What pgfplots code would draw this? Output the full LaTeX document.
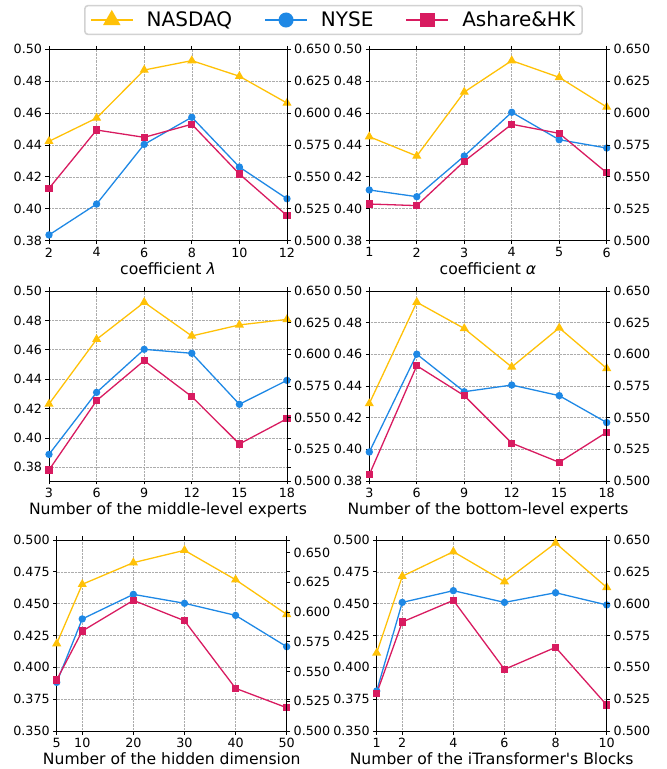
\documentclass[border=0pt]{standalone}
\usepackage{fontspec}
\setmainfont{DejaVu Sans}
\usepackage{pgfplots}
\pgfplotsset{compat=1.18}
\definecolor{cNas}{HTML}{FFC107}
\definecolor{cNyse}{HTML}{1E88E5}
\definecolor{cAsh}{HTML}{D81B60}
\newcommand{\tfs}{\fontsize{12.7}{14}\selectfont}
\newcommand{\lfs}{\fontsize{15.6}{17}\selectfont}
\pgfplotsset{
  pbase/.style={
    scale only axis, anchor=south west,
    tick align=outside, major tick length=3.5pt,
    every tick/.style={black, line width=0.8pt},
    axis line style={line width=0.9pt},
    ticklabel style={font=\tfs}, label style={font=\lfs},
    /pgf/number format/assume math mode=true,
  },
  pleft/.style={pbase, grid=major,
    grid style={densely dotted, gray!65, line width=0.6pt},
    yticklabel style={/pgf/number format/.cd, fixed, fixed zerofill, precision=2},
    xticklabel style={/pgf/number format/.cd, fixed},
    xlabel style={yshift=1.5pt},
  },
  pleftb/.style={pleft, yticklabel style={/pgf/number format/.cd, fixed, fixed zerofill, precision=3}},
  pright/.style={pbase, axis y line*=right, axis x line=none, xmin=0, xmax=1,
    ymin=0.5, ytick={0.5,0.525,0.55,0.575,0.6,0.625,0.65},
    yticklabel style={/pgf/number format/.cd, fixed, fixed zerofill, precision=3}},
  nas/.style={color=cNas, line width=1.3pt, mark=triangle*, mark size=4pt},
  nyse/.style={color=cNyse, line width=1.3pt, mark=*, mark size=3pt},
  ash/.style={color=cAsh, line width=1.3pt, mark=square*, mark size=3pt},
}
\begin{document}
\begin{tikzpicture}
\useasboundingbox (0pt,0pt) rectangle (667pt,769pt);
% ---------- Plot 1 ----------
\begin{axis}[pleft, at={(49pt,528.3pt)}, width=238pt, height=191.4pt,
  xmin=2, xmax=12, ymin=0.38, ymax=0.50, xtick={2,4,6,8,10,12},
  ytick={0.38,0.40,0.42,0.44,0.46,0.48,0.50},
  xlabel={coefficient \textit{λ}},
  legend columns=3,
  legend style={at={(1.1954,1.153)}, anchor=center, font=\fontsize{20}{23}\selectfont,
    draw=gray!35, line width=1.6pt, rounded corners=3pt, inner xsep=5pt, inner ysep=4pt,
    /tikz/every odd column/.append style={column sep=11pt},
    /tikz/every even column/.append style={column sep=30pt}},
  legend image code/.code={\draw[mark repeat=2,mark phase=2] plot coordinates {(0pt,0pt) (21pt,0pt) (42pt,0pt)};},
  legend image post style={line width=1.8pt},
]
\addplot[nas, legend image post style={mark size=8.3pt}] coordinates {(2,0.4423)(4,0.4569)(6,0.4870)(8,0.4929)(10,0.4831)(12,0.4663)};
\addlegendentry{NASDAQ}
\addplot[nyse, legend image post style={mark size=6.6pt}] coordinates {(2,0.3836)(4,0.4030)(6,0.4404)(8,0.4574)(10,0.4262)(12,0.4063)};
\addlegendentry{NYSE}
\addplot[ash, legend image post style={mark size=6.3pt}] coordinates {(2,0.4128)(4,0.4494)(6,0.4448)(8,0.4530)(10,0.4218)(12,0.3957)};
\addlegendentry{Ashare\&HK}
\end{axis}
\begin{axis}[pright, at={(49pt,528.3pt)}, width=238pt, height=191.4pt, ymax=0.65]
\end{axis}
% ---------- Plot 2 ----------
\begin{axis}[pleft, at={(369.3pt,528.3pt)}, width=237.4pt, height=191.4pt,
  xmin=1, xmax=6, ymin=0.38, ymax=0.50, xtick={1,2,3,4,5,6},
  ytick={0.38,0.40,0.42,0.44,0.46,0.48,0.50},
  xlabel={coefficient \textit{α}}]
\addplot[nas] coordinates {(1,0.4452)(2,0.4331)(3,0.4732)(4,0.4929)(5,0.4824)(6,0.4638)};
\addplot[nyse] coordinates {(1,0.4118)(2,0.4076)(3,0.4331)(4,0.4605)(5,0.4433)(6,0.4381)};
\addplot[ash] coordinates {(1,0.4030)(2,0.4020)(3,0.4298)(4,0.4530)(5,0.4473)(6,0.4226)};
\end{axis}
\begin{axis}[pright, at={(369.3pt,528.3pt)}, width=237.4pt, height=191.4pt, ymax=0.65]
\end{axis}
% ---------- Plot 3 ----------
\begin{axis}[pleft, at={(49pt,288pt)}, width=238pt, height=190pt,
  xmin=3, xmax=18, ymin=0.3707, ymax=0.50, xtick={3,6,9,12,15,18},
  ytick={0.38,0.40,0.42,0.44,0.46,0.48,0.50},
  xlabel={Number of the middle-level experts}]
\addplot[nas] coordinates {(3,0.4231)(6,0.4671)(9,0.4923)(12,0.4694)(15,0.4769)(18,0.4807)};
\addplot[nyse] coordinates {(3,0.3888)(6,0.4310)(9,0.4603)(12,0.4576)(15,0.4229)(18,0.4392)};
\addplot[ash] coordinates {(3,0.3782)(6,0.4254)(9,0.4526)(12,0.4281)(15,0.3959)(18,0.4131)};
\end{axis}
\begin{axis}[pright, at={(49pt,288pt)}, width=238pt, height=190pt, ymax=0.65]
\end{axis}
% ---------- Plot 4 ----------
\begin{axis}[pleft, at={(369.3pt,288pt)}, width=237.4pt, height=190pt,
  xmin=3, xmax=18, ymin=0.38, ymax=0.50, xtick={3,6,9,12,15,18},
  ytick={0.38,0.40,0.42,0.44,0.46,0.48,0.50},
  xlabel={Number of the bottom-level experts}]
\addplot[nas] coordinates {(3,0.4289)(6,0.4929)(9,0.4763)(12,0.4520)(15,0.4767)(18,0.4511)};
\addplot[nyse] coordinates {(3,0.3983)(6,0.4601)(9,0.4364)(12,0.4406)(15,0.4339)(18,0.4169)};
\addplot[ash] coordinates {(3,0.3840)(6,0.4528)(9,0.4339)(12,0.4039)(15,0.3918)(18,0.4108)};
\end{axis}
\begin{axis}[pright, at={(369.3pt,288pt)}, width=237.4pt, height=190pt, ymax=0.65]
\end{axis}
% ---------- Plot 5 ----------
\begin{axis}[pleftb, at={(56.7pt,38pt)}, width=230pt, height=191pt,
  xmin=5, xmax=50, ymin=0.35, ymax=0.50, xtick={5,10,20,30,40,50},
  ytick={0.35,0.375,0.40,0.425,0.45,0.475,0.50},
  xlabel={Number of the hidden dimension}]
\addplot[nas] coordinates {(5,0.4186)(10,0.4652)(20,0.4822)(30,0.4919)(40,0.4688)(50,0.4416)};
\addplot[nyse] coordinates {(5,0.3882)(10,0.4380)(20,0.4573)(30,0.4503)(40,0.4408)(50,0.4162)};
\addplot[ash] coordinates {(5,0.3901)(10,0.4285)(20,0.4526)(30,0.4366)(40,0.3835)(50,0.3683)};
\end{axis}
\begin{axis}[pright, at={(56.7pt,38pt)}, width=230pt, height=191pt, ymax=0.6604]
\end{axis}
% ---------- Plot 6 ----------
\begin{axis}[pleftb, at={(376.7pt,38pt)}, width=230pt, height=191pt,
  xmin=1, xmax=10, ymin=0.35, ymax=0.50, xtick={1,2,4,6,8,10},
  ytick={0.35,0.375,0.40,0.425,0.45,0.475,0.50},
  xlabel={Number of the iTransformer\textquotesingle s Blocks}]
\addplot[nas] coordinates {(1,0.4113)(2,0.4715)(4,0.4908)(6,0.4673)(8,0.4976)(10,0.4628)};
\addplot[nyse] coordinates {(1,0.3814)(2,0.4510)(4,0.4602)(6,0.4510)(8,0.4586)(10,0.4490)};
\addplot[ash] coordinates {(1,0.3796)(2,0.4356)(4,0.4526)(6,0.3984)(8,0.4157)(10,0.3704)};
\end{axis}
\begin{axis}[pright, at={(376.7pt,38pt)}, width=230pt, height=191pt, ymax=0.65]
\end{axis}
\end{tikzpicture}
\end{document}
